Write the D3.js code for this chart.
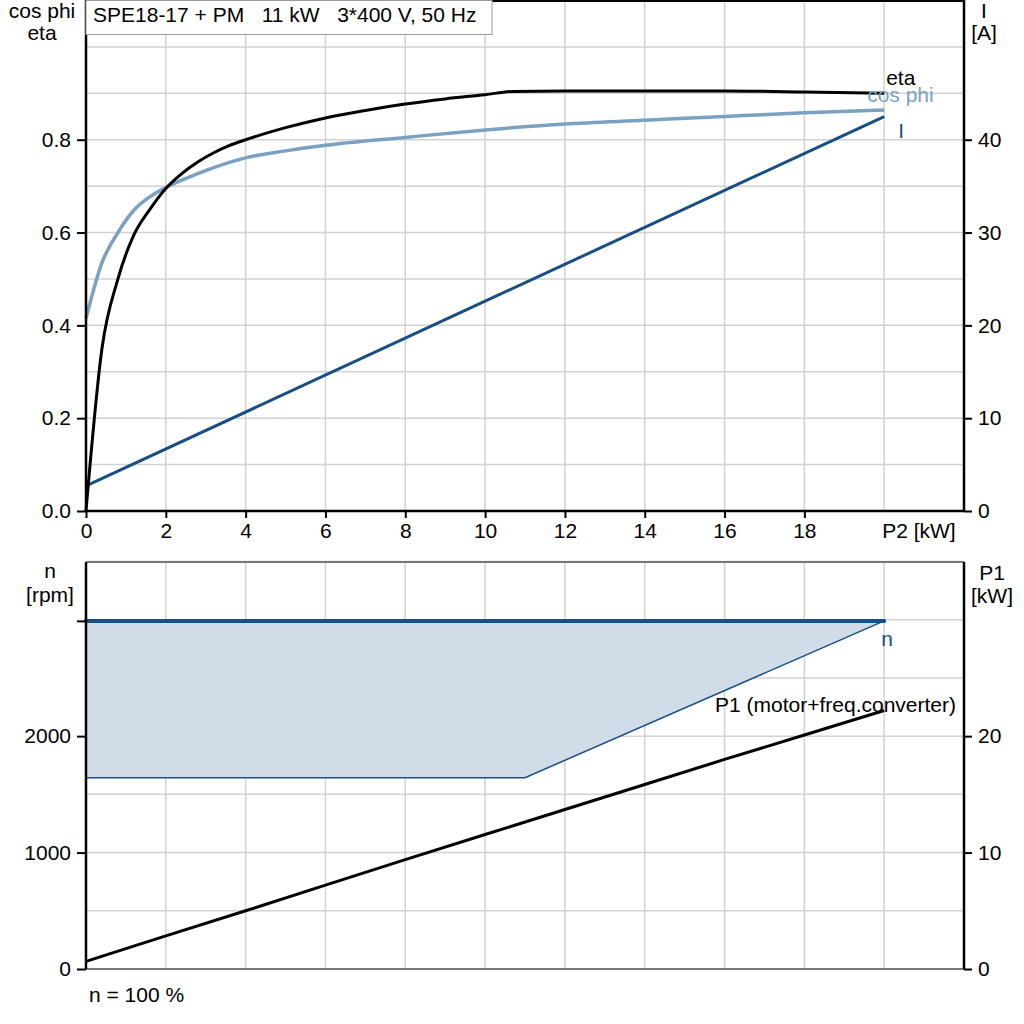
<!DOCTYPE html>
<html>
<head>
<meta charset="utf-8">
<script src="https://cdn.jsdelivr.net/npm/d3@7"></script>
<style>
  body { margin: 0; background: #fff; }
  svg { display: block; font-family: "Liberation Sans", Arial, sans-serif; }
</style>
</head>
<body>
<svg id="chart" width="1024" height="1024"></svg>
<script>
// values
const p2Eta = [0, 0.4, 0.8, 1.2, 1.6, 2, 2.4, 2.8, 3.2, 3.6, 4, 5, 6, 7, 8, 9, 10, 10.7, 12, 14, 16, 18, 20];
const eta = [0, 0.35, 0.50, 0.595, 0.65, 0.695, 0.727, 0.752, 0.772, 0.788, 0.80, 0.826, 0.847, 0.863, 0.877, 0.888, 0.897, 0.904, 0.905, 0.905, 0.905, 0.903, 0.90];
const p2Cos = [0, 0.4, 0.8, 1.2, 1.6, 2, 2.4, 2.8, 3.2, 4, 5, 6, 8, 10, 12, 14, 16, 18, 20];
const cosPhi = [0.415, 0.535, 0.600, 0.648, 0.677, 0.697, 0.713, 0.727, 0.740, 0.761, 0.776, 0.788, 0.805, 0.821, 0.834, 0.842, 0.850, 0.858, 0.864];
const p2Cur = [0, 10, 20];
const current = [2.7, 22.6, 42.5];
const p2Speed = [0, 20];
const speedMax = [2990, 2990];
const p2Min = [0, 11, 20];
const speedMin = [1643, 1643, 2990];
const p2P1 = [0, 2, 4, 6, 8, 10, 12, 14, 16, 18, 20];
const p1 = [0.65, 2.85, 5.0, 7.2, 9.4, 11.55, 13.7, 15.85, 18.0, 20.1, 22.2];
const xTicks = [0, 2, 4, 6, 8, 10, 12, 14, 16, 18];
const effTicks = [0, 0.2, 0.4, 0.6, 0.8];
const curTicks = [0, 10, 20, 30, 40];
const speedTicks = [0, 1000, 2000];
const p1Ticks = [0, 10, 20];
const title = "SPE18-17 + PM   11 kW   3*400 V, 50 Hz";

const svg = d3.select("#chart");
const left = 86, right = 964;
const dark = "#174f84", light = "#7aa0c4", grid = "#d2d2d2";
const fs = 21;

let x = d3.scaleLinear().domain([0, 22]).range([left, right]);
// top chart scales (I shares the grid: 40 A sits on 0.8)
let yEff = d3.scaleLinear().domain([0, 1.1]).range([511, 0.5]);
let yCur = d3.scaleLinear().domain([0, 55]).range([511, 0.5]);
// bottom chart scales
let yN = d3.scaleLinear().domain([0, 3500]).range([969, 561.5]);
let yP1 = d3.scaleLinear().domain([0, 35]).range([969, 561.5]);

function gridLines(yScale, yVals, top, bottom) {
    let g = svg.append("g");
    g.selectAll(".v").data(d3.range(2, 21, 2)).enter().append("line")
        .attr("x1", d => x(d)).attr("x2", d => x(d))
        .attr("y1", top).attr("y2", bottom)
        .attr("stroke", grid).attr("stroke-width", 1.5);
    g.selectAll(".h").data(yVals).enter().append("line")
        .attr("x1", left).attr("x2", right)
        .attr("y1", d => yScale(d)).attr("y2", d => yScale(d))
        .attr("stroke", grid).attr("stroke-width", 1.5);
}

function axisStyle(g) {
    g.selectAll("text").attr("font-size", fs).attr("fill", "#000")
     .attr("font-family", "Liberation Sans, Arial, sans-serif");
    g.selectAll("line").attr("stroke", "#000").attr("stroke-width", 2);
    g.select(".domain").remove();
}

function label(xp, yp, txt, opts) {
    opts = opts || {};
    return svg.append("text").attr("x", xp).attr("y", yp)
        .attr("font-size", fs)
        .attr("text-anchor", opts.anchor || "start")
        .attr("fill", opts.fill || "#000")
        .text(txt);
}

// ---------- top chart ----------
gridLines(yEff, d3.range(1, 11).map(d => d / 10), 0, 511);

let lineGen = (xs, ys, yScale, curve) => d3.line()
    .curve(curve || d3.curveLinear)
    .x((d, i) => x(xs[i])).y(d => yScale(d))(ys);

svg.append("path").attr("d", lineGen(p2Cur, current, yCur))
   .attr("fill", "none").attr("stroke", dark).attr("stroke-width", 3);
svg.append("path").attr("d", lineGen(p2Cos, cosPhi, yEff, d3.curveMonotoneX))
   .attr("fill", "none").attr("stroke", light).attr("stroke-width", 3.5);
svg.append("path").attr("d", lineGen(p2Eta, eta, yEff, d3.curveMonotoneX))
   .attr("fill", "none").attr("stroke", "#000").attr("stroke-width", 3);

// frame
svg.append("line").attr("x1", left).attr("x2", right).attr("y1", 1).attr("y2", 1)
   .attr("stroke", "#000").attr("stroke-width", 2);
svg.append("line").attr("x1", left).attr("x2", left).attr("y1", 0).attr("y2", 511)
   .attr("stroke", "#000").attr("stroke-width", 2.5);
svg.append("line").attr("x1", right).attr("x2", right).attr("y1", 0).attr("y2", 511)
   .attr("stroke", "#000").attr("stroke-width", 2.5);
svg.append("line").attr("x1", left).attr("x2", right).attr("y1", 511).attr("y2", 511)
   .attr("stroke", "#000").attr("stroke-width", 2.5);

svg.append("g").attr("transform", `translate(${left},0)`)
   .call(d3.axisLeft(yEff).tickValues(effTicks).tickFormat(d3.format(".1f")).tickSize(9).tickPadding(6))
   .call(axisStyle);
svg.append("g").attr("transform", `translate(${right},0)`)
   .call(d3.axisRight(yCur).tickValues(curTicks).tickSize(8).tickPadding(6))
   .call(axisStyle);
svg.append("g").attr("transform", "translate(0,511)")
   .call(d3.axisBottom(x).tickValues(xTicks).tickSize(7).tickPadding(5))
   .call(axisStyle);

label(x(20) - 2, 538, "P2 [kW]");

// title box
svg.append("rect").attr("x", left).attr("y", 0.5).attr("width", 406).attr("height", 34)
   .attr("fill", "#fff").attr("stroke", "#9a9a9a").attr("stroke-width", 1);
label(93, 22, title).style("white-space", "pre");

// axis titles
label(42, 18, "cos phi", {anchor: "middle"});
label(42, 40, "eta", {anchor: "middle"});
label(984, 18, "I", {anchor: "middle"});
label(984, 40, "[A]", {anchor: "middle"});

// curve labels
label(x(20) + 2, 85, "eta");
label(x(20) - 17, 102, "cos phi", {fill: light});
label(x(20) + 14, 138, "I", {fill: dark});

// ---------- bottom chart ----------
gridLines(yN, d3.range(500, 3501, 500), 561.5, 969);

let area = d3.area()
    .x((d, i) => x(p2Min[i]))
    .y0(d => yN(d))
    .y1(yN(speedMax[0]));
svg.append("path").attr("d", area(speedMin)).attr("fill", "#d0dce8");
svg.append("path").attr("d", lineGen(p2Min, speedMin, yN))
   .attr("fill", "none").attr("stroke", dark).attr("stroke-width", 1.5);
svg.append("path").attr("d", lineGen(p2Speed, speedMax, yN))
   .attr("fill", "none").attr("stroke", dark).attr("stroke-width", 4).attr("stroke-linecap", "round");
svg.append("path").attr("d", lineGen(p2P1, p1, yP1))
   .attr("fill", "none").attr("stroke", "#000").attr("stroke-width", 3);

svg.append("line").attr("x1", left).attr("x2", right).attr("y1", 562).attr("y2", 562)
   .attr("stroke", "#777").attr("stroke-width", 2);
svg.append("line").attr("x1", left).attr("x2", right).attr("y1", 969).attr("y2", 969)
   .attr("stroke", "#777").attr("stroke-width", 2);
svg.append("line").attr("x1", left).attr("x2", left).attr("y1", 562).attr("y2", 969)
   .attr("stroke", "#000").attr("stroke-width", 2.5);
svg.append("line").attr("x1", right).attr("x2", right).attr("y1", 562).attr("y2", 969)
   .attr("stroke", "#000").attr("stroke-width", 2.5);

svg.append("g").attr("transform", `translate(${left},0)`)
   .call(d3.axisLeft(yN).tickValues(speedTicks.concat([speedMax[0]]))
        .tickFormat(d => speedTicks.includes(d) ? d : "").tickSize(9).tickPadding(6))
   .call(axisStyle);
svg.append("g").attr("transform", `translate(${right},0)`)
   .call(d3.axisRight(yP1).tickValues(p1Ticks).tickSize(8).tickPadding(6))
   .call(axisStyle);

label(50, 578, "n", {anchor: "middle"});
label(50, 602, "[rpm]", {anchor: "middle"});
label(992, 580, "P1", {anchor: "middle"});
label(992, 603, "[kW]", {anchor: "middle"});

label(x(20) - 3, 646, "n", {fill: dark});
label(715, 712, "P1 (motor+freq.converter)");
label(89, 1002, "n = 100 %");
</script>
</body>
</html>
